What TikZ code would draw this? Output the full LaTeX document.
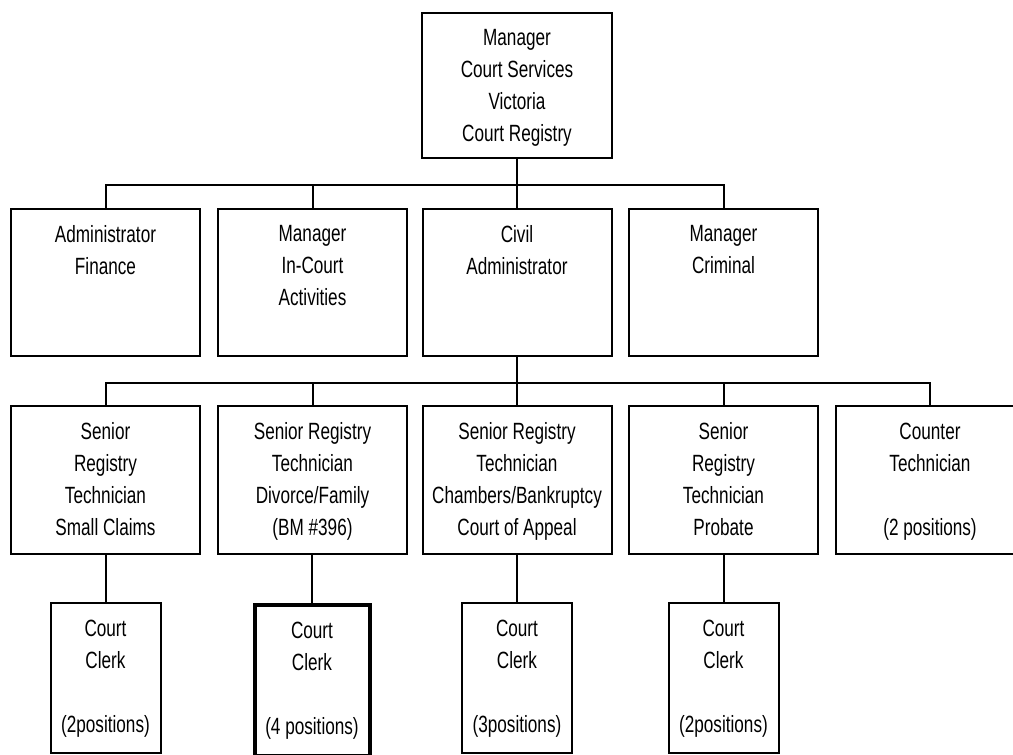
\documentclass[tikz,border=0pt]{standalone}
\usepackage{fontspec}
\setmainfont{Liberation Sans}[FakeStretch=0.73]
\begin{document}
\begin{tikzpicture}[x=1pt,y=-1pt,
  box/.style={draw=black,line width=2pt,rectangle,inner sep=0pt,anchor=north,minimum width=189pt},
  smallbox/.style={draw=black,line width=2pt,rectangle,inner sep=0pt,anchor=north,minimum width=110pt,minimum height=150pt},
  thickbox/.style={draw=black,line width=4pt,rectangle,inner sep=0pt,anchor=north,minimum width=115pt,minimum height=151pt},
  lbl/.style={anchor=north,inner sep=0pt,align=center,font=\fontsize{23.5}{32}\selectfont},
  conn/.style={draw=black,line width=2pt}]
\useasboundingbox (0,0) rectangle (1013,755);
% top
\node[box,minimum width=190pt,minimum height=145pt] (top) at (517,12) {};
\node[lbl] (topt) at ([yshift=-17.5pt]top.north) {Manager\\Court Services\\Victoria\\Court Registry};
% level 2
\node[box,minimum height=147pt] (a1) at (105.5,208) {};
\node[box,minimum height=147pt] (a2) at (312.5,208) {};
\node[box,minimum height=147pt] (a3) at (517,208) {};
\node[box,minimum height=147pt] (a4) at (723.5,208) {};
\node[lbl] (a1t) at ([yshift=-17.5pt]a1.north) {Administrator\\Finance};
\node[lbl] (a2t) at ([yshift=-17.5pt]a2.north) {Manager\\In-Court\\Activities};
\node[lbl] (a3t) at ([yshift=-17.5pt]a3.north) {Civil\\Administrator};
\node[lbl] (a4t) at ([yshift=-17.5pt]a4.north) {Manager\\Criminal};
% level 3
\node[box,minimum height=148pt] (b1) at (105.5,405) {};
\node[box,minimum height=148pt] (b2) at (312.5,405) {};
\node[box,minimum height=148pt] (b3) at (517,405) {};
\node[box,minimum height=148pt] (b4) at (723.5,405) {};
\node[box,minimum height=148pt] (b5) at (930,405) {};
\node[lbl] (b1t) at ([yshift=-17.5pt]b1.north) {Senior\\Registry\\Technician\\Small Claims};
\node[lbl] (b2t) at ([yshift=-17.5pt]b2.north) {Senior Registry\\Technician\\Divorce/Family\\(BM \#396)};
\node[lbl] (b3t) at ([yshift=-17.5pt]b3.north) {Senior Registry\\Technician\\Chambers/Bankruptcy\\Court of Appeal};
\node[lbl] (b4t) at ([yshift=-17.5pt]b4.north) {Senior\\Registry\\Technician\\Probate};
\node[lbl] (b5t) at ([yshift=-17.5pt]b5.north) {Counter\\Technician\\[32pt](2 positions)};
% level 4
\node[smallbox] (c1) at (105.5,602) {};
\node[thickbox] (c2) at (312,603) {};
\node[smallbox] (c3) at (517,602) {};
\node[smallbox] (c4) at (723.5,602) {};
\node[lbl] (c1t) at ([yshift=-17.5pt]c1.north) {Court\\Clerk\\[32pt](2positions)};
\node[lbl] (c2t) at ([yshift=-18.5pt]c2.north) {Court\\Clerk\\[32pt](4 positions)};
\node[lbl] (c3t) at ([yshift=-17.5pt]c3.north) {Court\\Clerk\\[32pt](3positions)};
\node[lbl] (c4t) at ([yshift=-17.5pt]c4.north) {Court\\Clerk\\[32pt](2positions)};
% connectors
\coordinate (bus1) at (517,185);
\coordinate (bus2) at (517,383);
\draw[conn] (top.south) -- (bus1);
\draw[conn] (a1.north) |- (a4.north |- bus1) -- (a4.north);
\draw[conn] (a2.north |- bus1) -- (a2.north);
\draw[conn] (a3.north |- bus1) -- (a3.north);
\draw[conn] (a3.south) -- (bus2);
\draw[conn] (b1.north) |- (b5.north |- bus2) -- (b5.north);
\draw[conn] (b2.north |- bus2) -- (b2.north);
\draw[conn] (b3.north |- bus2) -- (b3.north);
\draw[conn] (b4.north |- bus2) -- (b4.north);
\draw[conn] (c1.north |- b1.south) -- (c1.north);
\draw[conn] (c2.north |- b2.south) -- (c2.north);
\draw[conn] (c3.north |- b3.south) -- (c3.north);
\draw[conn] (c4.north |- b4.south) -- (c4.north);
\end{tikzpicture}
\end{document}
